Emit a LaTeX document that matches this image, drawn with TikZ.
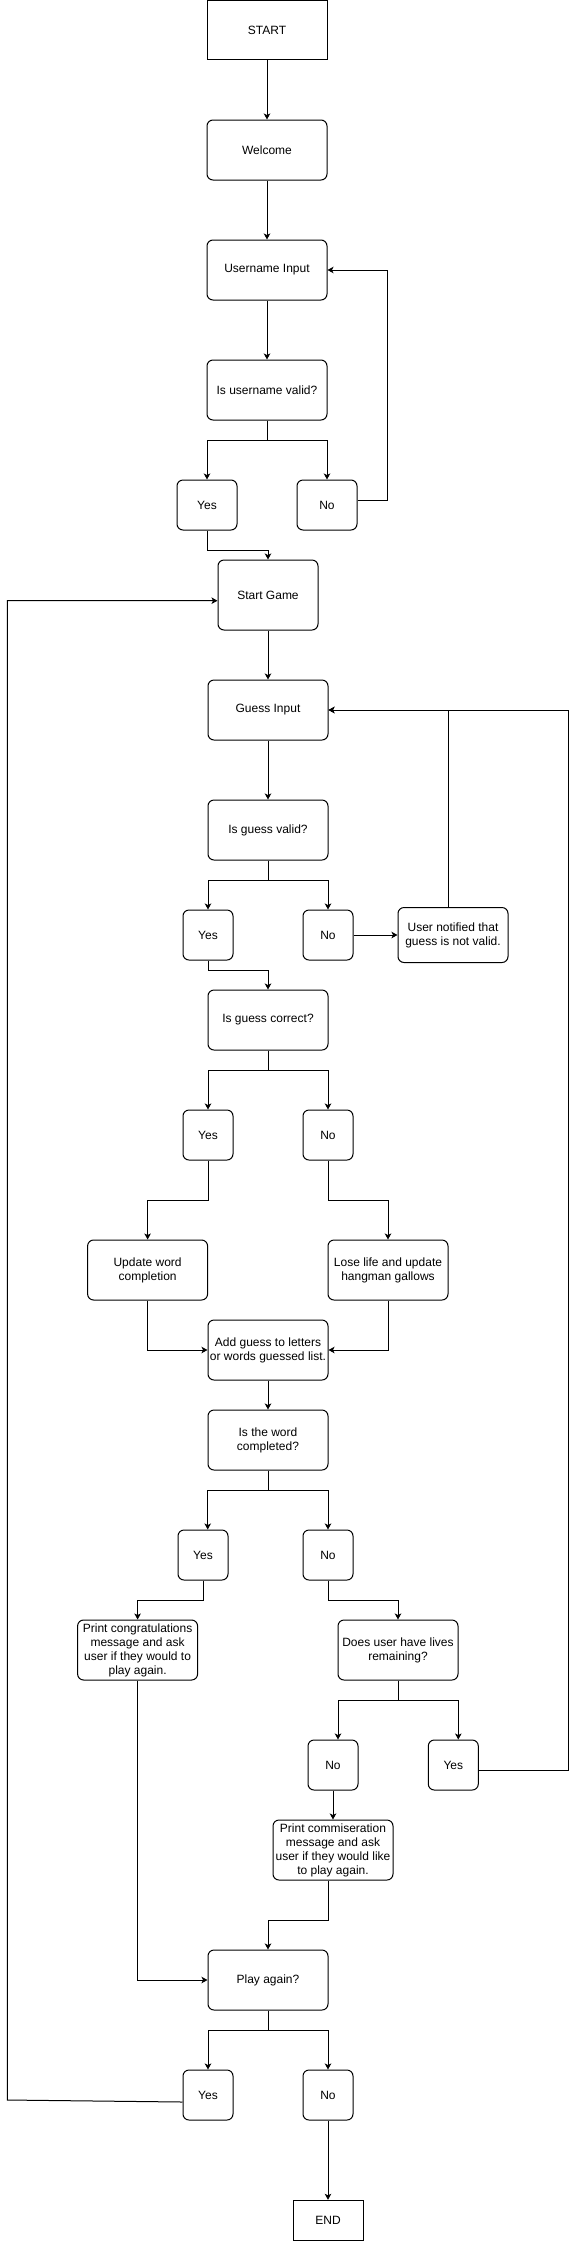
\documentclass[tikz,border=0pt]{standalone}
\usepackage{fontspec}
\setmainfont{Liberation Sans}
\usetikzlibrary{arrows.meta}
\begin{document}
\begin{tikzpicture}[x=1pt,y=-1pt,
  every node/.style={font=\fontsize{12pt}{14pt}\selectfont, inner sep=0pt, align=center},
  box/.style={draw, line width=1pt, rounded corners=6pt},
  sqbox/.style={draw, line width=1pt},
  arr/.style={line width=1pt, -{Stealth[length=6pt,width=6.5pt,inset=1.5pt]}},
  ln/.style={line width=1pt}]
\fill[white] (0,0) rectangle (569,2241);
\useasboundingbox (0,0) rectangle (569,2241);

\node[sqbox, minimum width=120pt, minimum height=59pt] (start) at (267,30) {START};
\node[box, minimum width=120pt, minimum height=60pt] (welcome) at (267,150) {Welcome};
\node[box, minimum width=120pt, minimum height=60pt] (uinput) at (267,270) {Username Input};
\node[box, minimum width=120pt, minimum height=60pt] (uvalid) at (267,390) {Is username valid?};
\node[box, minimum width=60pt, minimum height=50pt] (yesA) at (207,505) {Yes};
\node[box, minimum width=60pt, minimum height=50pt] (noA) at (327,505) {No};

\node[box, minimum width=100pt, minimum height=70pt] (startg) at (268,595) {Start Game};
\node[box, minimum width=120pt, minimum height=60pt] (ginput) at (268,710) {Guess Input};
\node[box, minimum width=120pt, minimum height=60pt] (gvalid) at (268,830) {Is guess valid?};
\node[box, minimum width=50pt, minimum height=50pt] (yesB) at (208,935) {Yes};
\node[box, minimum width=50pt, minimum height=50pt] (noB) at (328,935) {No};
\node[box, minimum width=110pt, minimum height=55pt] (notif) at (453,935) {User notified that\\guess is not valid.};

\node[box, minimum width=120pt, minimum height=60pt] (gcorrect) at (268,1020) {Is guess correct?};
\node[box, minimum width=50pt, minimum height=50pt] (yesC) at (208,1135) {Yes};
\node[box, minimum width=50pt, minimum height=50pt] (noC) at (328,1135) {No};
\node[box, minimum width=120pt, minimum height=60pt] (update) at (147.6,1270) {Update word\\completion};
\node[box, minimum width=120pt, minimum height=60pt] (lose) at (388,1270) {Lose life and update\\hangman gallows};
\node[box, minimum width=120pt, minimum height=60pt] (addg) at (268,1350) {Add guess to letters\\or words guessed list.};

\node[box, minimum width=120pt, minimum height=60pt] (wcomp) at (268,1440) {Is the word\\completed?};
\node[box, minimum width=50pt, minimum height=50pt] (yesD) at (203,1555) {Yes};
\node[box, minimum width=50pt, minimum height=50pt] (noD) at (328,1555) {No};
\node[box, minimum width=120pt, minimum height=60pt] (congr) at (137.6,1650) {Print congratulations\\message and ask\\user if they would to\\play again.};
\node[box, minimum width=120pt, minimum height=60pt] (lives) at (398,1650) {Does user have lives\\remaining?};
\node[box, minimum width=50pt, minimum height=50pt] (noE) at (333,1765) {No};
\node[box, minimum width=50pt, minimum height=50pt] (yesE) at (453.3,1765) {Yes};
\node[box, minimum width=120pt, minimum height=60pt] (commis) at (333,1850) {Print commiseration\\message and ask\\user if they would like\\to play again.};

\node[box, minimum width=120pt, minimum height=60pt] (play) at (268,1980) {Play again?};
\node[box, minimum width=50pt, minimum height=50pt] (yesF) at (208,2095) {Yes};
\node[box, minimum width=50pt, minimum height=50pt] (noF) at (328,2095) {No};
\node[sqbox, minimum width=70pt, minimum height=40pt] (endn) at (328,2220.3) {END};

\coordinate (leftrail) at (7.3,2100);
\coordinate (rightrail) at (568.4,1770.7);
\coordinate (urail) at (387.3,500);

% top part
\draw[arr] (start) -- (welcome);
\draw[arr] (welcome) -- (uinput);
\draw[arr] (uinput) -- (uvalid);
\draw[arr] (uvalid.south) -- ++(0,20) -| (yesA.north);
\draw[arr] (uvalid.south) -- ++(0,20) -| (noA.north);
\draw[arr] ([yshift=5pt]noA.east) -- (urail) |- (uinput.east);
\draw[arr] (yesA.south) -- ++(0,20) -| (startg.north);

% guess loop
\draw[arr] (startg) -- (ginput);
\draw[arr] (ginput) -- (gvalid);
\draw[arr] (gvalid.south) -- ++(0,20) -| (yesB.north);
\draw[arr] (gvalid.south) -- ++(0,20) -| (noB.north);
\draw[arr] (noB.east) -- (notif.west);
\draw[arr] ([xshift=-5pt]notif.north) |- (ginput.east);
\draw[arr] (yesB.south) -- ++(0,10.3) -| (gcorrect.north);

\draw[arr] (gcorrect.south) -- ++(0,20) -| (yesC.north);
\draw[arr] (gcorrect.south) -- ++(0,20) -| (noC.north);
\draw[arr] (yesC.south) -- ++(0,40) -| (update.north);
\draw[arr] (noC.south) -- ++(0,40) -| (lose.north);
\draw[arr] (update.south) |- (addg.west);
\draw[arr] (lose.south) |- (addg.east);
\draw[arr] (addg) -- (wcomp);

\draw[arr] (wcomp.south) -- ++(0,20) -| ([xshift=4.7pt]yesD.north);
\draw[arr] (wcomp.south) -- ++(0,20) -| (noD.north);
\draw[arr] (yesD.south) -- ++(0,20) -| (congr.north);
\draw[arr] (noD.south) -- ++(0,20) -| (lives.north);
\draw[arr] (lives.south) -- ++(0,20) -| ([xshift=5pt]noE.north);
\draw[arr] (lives.south) -- ++(0,20) -| ([xshift=5pt]yesE.north);
\draw[arr] ([yshift=-5.7pt]yesE.east) -- (rightrail) |- (ginput.east);
\draw[arr] (noE) -- (commis);
\draw[arr] ([xshift=-5pt]commis.south) -- ++(0,40.3) -| (play.north);
\draw[arr] (congr.south) |- (play.west);

\draw[arr] (play.south) -- ++(0,20) -| (yesF.north);
\draw[arr] (play.south) -- ++(0,20) -| (noF.north);
\draw[arr] ([yshift=-7pt]yesF.west) -- (leftrail) |- ([yshift=-5.7pt]startg.west);
\draw[arr] (noF) -- (endn);
\end{tikzpicture}
\end{document}
